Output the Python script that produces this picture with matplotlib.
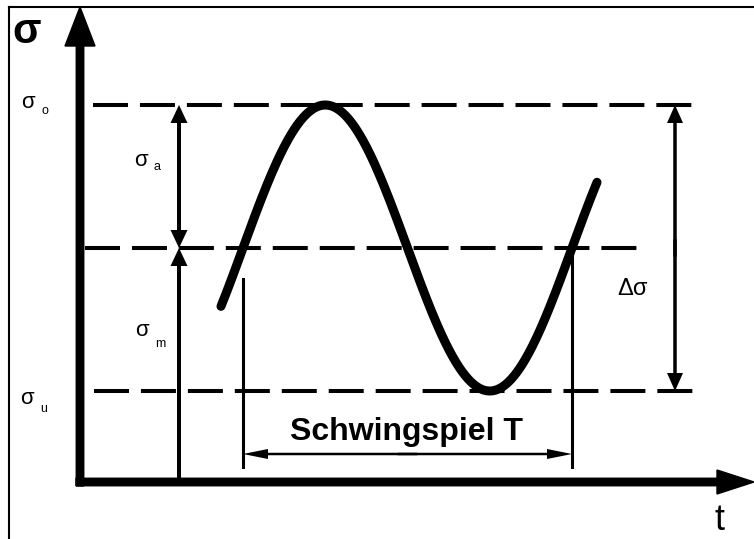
import numpy as np
import matplotlib.pyplot as plt

plt.rcParams['font.family'] = ['Liberation Sans', 'DejaVu Sans']
plt.rcParams['lines.scale_dashes'] = False

# stress cycle parameters (1 unit = 100 px)
sigma_m = 2.34      # mean stress
sigma_a = 1.43      # stress amplitude
T = 3.29            # period (Schwingspiel)
t_start = 1.63      # start of the marked cycle
t_curve = (1.41, 5.17)  # visible range of the curve

sigma_o = sigma_m + sigma_a
sigma_u = sigma_m - sigma_a

# extents of the dashed level lines
level_vals = [sigma_o, sigma_m, sigma_u]
level_from = [0.13, 0.05, 0.14]
level_to = [6.14, 5.61, 6.14]

fig = plt.figure(figsize=(7.54, 5.39), dpi=100)
ax = fig.add_axes([0, 0, 1, 1])
ax.set_xlim(-0.80, 6.74)
ax.set_ylim(-0.57, 4.82)
ax.axis('off')

# frame
ax.plot([-0.71, -0.71], [-0.6, 4.75], color='black', lw=1.5)
ax.plot([-0.71, 6.8], [4.75, 4.75], color='black', lw=1.5)

# coordinate axes
ax.arrow(0, -0.04, 0, 4.79, width=0.075, head_width=0.30, head_length=0.39,
         length_includes_head=True, color='black')
ax.arrow(-0.04, 0, 6.78, 0, width=0.075, head_width=0.24, head_length=0.37,
         length_includes_head=True, color='black')

# level lines
for v, a, b in zip(level_vals, level_from, level_to):
    ax.plot([a, b], [v, v], color='black', lw=2.9, linestyle=(0, (25.2, 8.6)),
            solid_capstyle='butt', dash_capstyle='butt')

# stress curve
t = np.linspace(t_curve[0], t_curve[1], 400)
s = sigma_m + sigma_a * np.sin(2 * np.pi * (t - t_start) / T)
ax.plot(t, s, color='black', lw=6.5, solid_capstyle='round')


def double_arrow(x0, y0, x1, y1, hw, hl, w):
    # two halves drawn outward from the middle, overlapping a little
    xm, ym = (x0 + x1) / 2, (y0 + y1) / 2
    for xe, ye, xo, yo in [(x0, y0, x1, y1), (x1, y1, x0, y0)]:
        xs = xm + 0.03 * (xo - xe)
        ys = ym + 0.03 * (yo - ye)
        ax.arrow(xs, ys, xe - xs, ye - ys, width=w, head_width=hw, head_length=hl,
                 length_includes_head=True, color='black', lw=0)


# amplitude and range arrows
x_a = 0.99
double_arrow(x_a, sigma_m, x_a, sigma_o, 0.17, 0.18, 0.04)
ax.arrow(x_a, 0, 0, sigma_m, width=0.04, head_width=0.17, head_length=0.18,
         length_includes_head=True, color='black', lw=0)
x_d = 5.95
double_arrow(x_d, sigma_u, x_d, sigma_o, 0.16, 0.18, 0.035)

# period marker
t_end = t_start + T
ax.plot([t_start, t_start], [sigma_m - 0.31, 0.15], color='black', lw=2.2)
ax.plot([t_end, t_end], [sigma_m - 0.02, 0.15], color='black', lw=2.2)
double_arrow(t_start, 0.28, t_end, 0.28, 0.10, 0.25, 0.025)

# labels
ax.text(-0.53, 4.50, 'σ', fontsize=30, fontweight='bold', ha='center', va='center')
sub_labels = [('o', -0.52, 3.80, -0.35, 3.71),
              ('a', 0.61, 3.22, 0.77, 3.15),
              ('m', 0.62, 1.51, 0.80, 1.38),
              ('u', -0.53, 0.83, -0.36, 0.73)]
for sub, xs, ys, xb, yb in sub_labels:
    ax.text(xs, ys, 'σ', fontsize=16, ha='center', va='center')
    ax.text(xb, yb, sub, fontsize=9, ha='center', va='center')
ax.text(5.52, 1.93, 'Δσ', fontsize=17, ha='center', va='center')
ax.text(3.265, 0.42, 'Schwingspiel T', fontsize=23, fontweight='bold',
        ha='center', va='baseline')
ax.text(6.39, -0.565, 't', fontsize=26, ha='center', va='bottom')

fig.savefig('out.png', dpi=100)
